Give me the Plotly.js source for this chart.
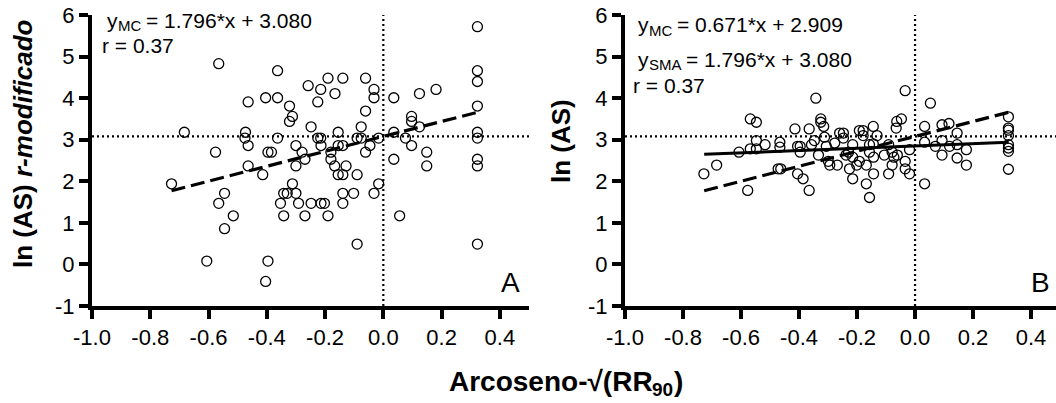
<!DOCTYPE html>
<html><head><meta charset="utf-8">
<script src="https://cdn.plot.ly/plotly-3.0.1.min.js"></script>
<style>html,body{margin:0;padding:0;background:#fff}</style>
</head><body><div id="chart" style="width:1056px;height:403px"></div>
<script>
// Panel A: ln(AS) r-modificado vs Arcoseno-sqrt(RR90)
const xA = [-0.727,-0.683,-0.565,-0.576,-0.606,-0.545,-0.565,-0.515,-0.545,-0.473,
  -0.475,-0.464,-0.464,-0.464,-0.414,-0.404,-0.396,-0.384,-0.396,-0.404,
  -0.363,-0.363,-0.363,-0.322,-0.312,-0.322,-0.300,-0.312,-0.300,-0.342,
  -0.330,-0.300,-0.353,-0.342,-0.291,-0.269,-0.279,-0.269,-0.248,-0.258,
  -0.248,-0.225,-0.215,-0.225,-0.215,-0.214,-0.214,-0.202,-0.190,-0.190,
  -0.166,-0.180,-0.180,-0.167,-0.155,-0.155,-0.155,-0.139,-0.139,-0.139,
  -0.139,-0.139,-0.128,-0.102,-0.090,-0.090,-0.090,-0.076,-0.076,-0.061,
  -0.061,-0.061,-0.046,-0.032,-0.032,-0.032,-0.016,-0.016,0.036,0.036,
  0.036,0.056,0.076,0.097,0.097,0.097,0.124,0.124,0.149,0.149,
  0.181,0.323,0.323,0.323,0.323,0.323,0.323,0.323,0.323,0.323];
const yA = [1.94,3.18,4.83,2.70,0.08,1.71,1.47,1.17,0.86,3.18,
  3.04,2.86,3.91,2.37,2.16,4.01,2.70,2.70,0.08,-0.41,
  4.66,4.01,3.04,3.81,3.56,3.44,2.86,1.94,2.37,1.71,
  1.71,1.71,1.47,1.17,1.47,1.17,2.70,2.53,3.31,4.30,
  1.47,3.91,4.21,3.04,3.04,2.86,1.47,1.47,1.17,4.48,
  4.11,2.70,2.53,2.37,3.18,2.86,2.16,4.48,2.86,2.16,
  1.71,1.47,2.37,1.71,0.49,2.16,3.04,3.04,3.31,4.48,
  3.69,2.70,2.86,4.21,4.01,1.71,1.94,3.04,4.01,3.18,
  2.53,1.17,3.04,3.56,3.44,2.86,4.11,3.31,2.70,2.37,
  4.21,5.72,4.66,4.40,3.81,3.18,3.04,2.53,2.37,0.49];

// Panel B: ln(AS) vs Arcoseno-sqrt(RR90)
const xB = [-0.728,-0.684,-0.607,-0.568,-0.547,-0.568,-0.547,-0.547,-0.577,-0.517,
  -0.466,-0.466,-0.472,-0.463,-0.414,-0.405,-0.396,-0.396,-0.405,-0.386,
  -0.365,-0.365,-0.342,-0.357,-0.347,-0.333,-0.325,-0.325,-0.315,-0.312,
  -0.306,-0.299,-0.294,-0.277,-0.268,-0.260,-0.247,-0.247,-0.238,-0.229,
  -0.226,-0.215,-0.215,-0.215,-0.201,-0.192,-0.179,-0.179,-0.192,-0.168,
  -0.168,-0.157,-0.157,-0.157,-0.144,-0.144,-0.143,-0.143,-0.131,-0.106,
  -0.091,-0.091,-0.079,-0.079,-0.073,-0.065,-0.063,-0.061,-0.047,-0.034,
  -0.034,-0.034,-0.019,-0.019,0.033,0.033,0.033,0.053,0.070,0.093,
  0.093,0.093,0.117,0.119,0.145,0.145,0.145,0.177,0.177,0.322,
  0.322,0.322,0.322,0.322,0.322,0.322,0.322];
const yB = [2.18,2.39,2.70,3.50,3.42,2.78,2.98,2.78,1.78,2.88,
  2.94,2.82,2.30,2.30,3.26,2.84,2.84,2.70,2.18,2.06,
  1.78,3.26,4.00,2.88,2.98,2.63,3.50,3.42,3.32,3.06,
  2.84,2.48,2.39,2.92,2.39,3.16,3.16,3.04,2.63,2.70,
  2.30,2.06,2.88,2.58,2.39,3.22,3.22,3.10,2.48,1.94,
  2.39,1.61,2.70,2.88,3.32,2.90,2.18,2.58,3.10,2.63,
  2.88,2.18,2.39,2.70,2.58,3.28,3.44,2.63,3.50,2.48,
  2.30,4.18,2.18,2.76,3.32,2.94,1.94,3.88,2.84,3.36,
  2.98,2.63,3.39,2.84,3.16,2.88,2.56,2.76,2.39,3.55,
  3.28,3.23,3.10,2.88,2.80,2.72,2.29];

// Fitted lines (end points)
const smaX = [-0.727, 0.323];
const smaY = [1.774, 3.660];
const mcBX = [-0.727, 0.323];
const mcBY = [2.65, 2.94];

// Reference (dotted) lines
const refX = 0;
const refY = 3.08;
const xMin = -1, xMaxA = 0.5, xMaxB = 0.486, yMin = -1, yMax = 6;

const xTickVals = [-1.0,-0.8,-0.6,-0.4,-0.2,0.0,0.2,0.4];
const xTickText = ["-1.0","-0.8","-0.6","-0.4","-0.2","0.0","0.2","0.4"];
const yTickVals = [-1,0,1,2,3,4,5,6];
const yTickText = ["-1","0","1","2","3","4","5","6"];

// Texts
const eqA = {lead: "y", sub: "MC", rest: "= 1.796*x + 3.080"};
const eqB1 = {lead: "y", sub: "MC", rest: "= 0.671*x + 2.909"};
const eqB2 = {lead: "y", sub: "SMA", rest: "= 1.796*x + 3.080"};
const rText = "r = 0.37";
const yTitleA = ["ln (AS)", "r-modificado"];
const yTitleB = "ln (AS)";
const xTitle = ["Arcoseno-√(RR", "90", ")"];
const panelLabels = ["A", "B"];

const FONT = "Liberation Sans, Arial, Helvetica, sans-serif";
const W = 1056, H = 403, MT = 15, MB = 97;
const PH = H - MT - MB;
const px = v => v / W;
const py = v => (H - MB - v) / PH;

// approximate Arial / Liberation Sans advance widths (em)
const WID = {' ':.278,'=':.584,'+':.584,'*':.389,'x':.5,'y':.5,'r':.333,'.':.278,
  'M':.833,'C':.722,'S':.667,'A':.667};
const textW = (s, size) => s.split('').reduce((a, c) => a + (WID[c] !== undefined ? WID[c] : .556), 0) * size;

const markerStyle = {symbol: 'circle-open', size: 10, color: '#000', line: {width: 1.3, color: '#000'}};
const dotted = {color: '#000', width: 2.2, dash: '2px,3px'};
const dashed = {color: '#000', width: 3.2, dash: '14px,6px'};

const traces = [
  {x: [xMin, xMaxA], y: [refY, refY], mode: 'lines', line: dotted, xaxis: 'x', yaxis: 'y', hoverinfo: 'skip'},
  {x: [refX, refX], y: [yMin, yMax], mode: 'lines', line: dotted, xaxis: 'x', yaxis: 'y', hoverinfo: 'skip'},
  {x: xA, y: yA, mode: 'markers', marker: markerStyle, xaxis: 'x', yaxis: 'y'},
  {x: smaX, y: smaY, mode: 'lines', line: dashed, xaxis: 'x', yaxis: 'y'},

  {x: [xMin, xMaxB], y: [refY, refY], mode: 'lines', line: dotted, xaxis: 'x2', yaxis: 'y2', hoverinfo: 'skip'},
  {x: [refX, refX], y: [yMin, yMax], mode: 'lines', line: dotted, xaxis: 'x2', yaxis: 'y2', hoverinfo: 'skip'},
  {x: xB, y: yB, mode: 'markers', marker: markerStyle, xaxis: 'x2', yaxis: 'y2'},
  {x: smaX, y: smaY, mode: 'lines', line: dashed, xaxis: 'x2', yaxis: 'y2'},
  {x: mcBX, y: mcBY, mode: 'lines', line: {color: '#000', width: 3}, xaxis: 'x2', yaxis: 'y2'}
];

const axCommon = {
  showline: true, linewidth: 4, linecolor: '#000', mirror: false,
  ticks: 'outside', ticklen: 9, tickwidth: 4, tickcolor: '#000',
  showgrid: false, zeroline: false,
  tickfont: {family: FONT, size: 22, color: '#000'}
};
const xAx = (dom, maxv, anchor) => Object.assign({}, axCommon, {
  domain: dom, range: [xMin, maxv], anchor: anchor,
  tickmode: 'array', tickvals: xTickVals, ticktext: xTickText
});
const yAx = (anchor) => Object.assign({}, axCommon, {
  domain: [0, 1], range: [yMin, yMax], anchor: anchor,
  tickmode: 'array', tickvals: yTickVals, ticktext: yTickText
});

const ann = (text, x, y, size, opts) => Object.assign({
  text: text, xref: 'paper', yref: 'paper', x: px(x), y: py(y),
  xanchor: 'left', yanchor: 'middle', showarrow: false, borderpad: 0, borderwidth: 0,
  font: {family: FONT, size: size, color: '#000'}
}, opts || {});

// equation with a subscript, built from separate text pieces
const EQF = 21, SUBF = 15;
function eqAnn(eq, x0, midY) {
  const xs = x0 + textW(eq.lead, EQF);
  const xr = xs + textW(eq.sub, SUBF) + 0.25 * EQF;
  return [
    ann(eq.lead, x0, midY, EQF),
    ann(eq.sub, xs, midY + 5.5, SUBF),
    ann(eq.rest, xr, midY, EQF)
  ];
}

// x title pieces
const XTF = 28, XSF = 19;
const xtW0 = 203.6, xtW1 = 21.5, xtW2 = 9.3;
const xtStart = 566 - (xtW0 + xtW1 + xtW2) / 2;

const bold = {weight: 'bold'};
const annotations = [].concat(
  eqAnn(eqA, 107, 20),
  [ann(rText, 102, 46, EQF)],
  eqAnn(eqB1, 638, 25),
  eqAnn(eqB2, 638, 59),
  [ann(rText, 633, 85, EQF)],
  [ann(panelLabels[0], 510, 282, 28, {xanchor: 'center'}),
   ann(panelLabels[1], 1040, 282, 28, {xanchor: 'center'})],
  [ann(yTitleA[0], 23, 226, 26, {xanchor: 'center', textangle: -90, font: {family: FONT, size: 26, color: '#000', weight: 'bold'}}),
   ann(yTitleA[1], 23, 98, 26, {xanchor: 'center', textangle: -90, font: {family: FONT, size: 26, color: '#000', weight: 'bold', style: 'italic'}}),
   ann(yTitleB, 561, 141, 26, {xanchor: 'center', textangle: -90, font: {family: FONT, size: 26, color: '#000', weight: 'bold'}})],
  [ann(xTitle[0], xtStart, 381, XTF, {font: {family: FONT, size: XTF, color: '#000', weight: 'bold'}}),
   ann(xTitle[1], xtStart + xtW0, 390, XSF, {font: {family: FONT, size: XSF, color: '#000', weight: 'bold'}}),
   ann(xTitle[2], xtStart + xtW0 + xtW1, 381, XTF, {font: {family: FONT, size: XTF, color: '#000', weight: 'bold'}})]
);

const layout = {
  width: W, height: H,
  margin: {l: 0, r: 0, t: MT, b: MB, pad: 0},
  paper_bgcolor: '#fff', plot_bgcolor: '#fff',
  showlegend: false,
  xaxis: xAx([92 / W, 529 / W], xMaxA, 'y'),
  yaxis: yAx('x'),
  xaxis2: xAx([625 / W, 1], xMaxB, 'y2'),
  yaxis2: yAx('x2'),
  annotations: annotations
};

Plotly.newPlot('chart', traces, layout, {displayModeBar: false, staticPlot: true});
</script>
</body></html>
